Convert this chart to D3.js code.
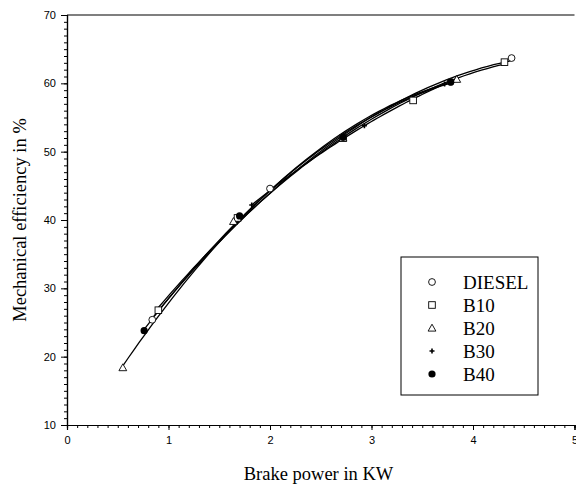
<!DOCTYPE html>
<html>
<head>
<meta charset="utf-8">
<script src="https://cdn.jsdelivr.net/npm/d3@7"></script>
<style>
  body { margin: 0; background: #fff; }
  .tick text { font-family: "Liberation Sans", Arial, sans-serif; font-size: 11px; }
  .domain, .tick line { stroke: #000; }
</style>
</head>
<body>
<div id="chart"></div>
<script>
// brake power (kW) and mechanical efficiency (%)
const diesel = [[0.84, 25.4], [2.0, 44.6], [2.72, 52.1], [3.78, 60.2], [4.38, 63.7]];
const b10 = [[0.9, 26.8], [1.68, 40.3], [2.72, 52.0], [3.41, 57.5], [4.31, 63.1]];
const b20 = [[0.55, 18.4], [1.64, 39.8], [2.72, 52.0], [3.84, 60.6]];
const b30 = [[1.82, 42.2], [2.93, 53.8], [3.72, 59.9]];
const b40 = [[0.76, 23.8], [1.70, 40.6], [2.72, 52.1], [3.78, 60.2]];

const seriesNames = ["DIESEL", "B10", "B20", "B30", "B40"];
const seriesData = [diesel, b10, b20, b30, b40];
const xTicks = [0, 1, 2, 3, 4, 5];
const yTicks = [10, 20, 30, 40, 50, 60, 70];

const props = {
  width: 576, height: 485,
  left: 67, top: 15, right: 1.5, bottom: 60
};
const W = props.width - props.left - props.right;
const H = props.height - props.top - props.bottom;

const svg = d3.select("#chart").append("svg")
  .attr("width", props.width)
  .attr("height", props.height);
const g = svg.append("g")
  .attr("transform", `translate(${props.left}, ${props.top})`);

const x = d3.scaleLinear().domain([0, 5]).range([0, W]);
const y = d3.scaleLinear().domain([10, 70]).range([H, 0]);

// minor ticks
g.append("g")
  .attr("transform", `translate(0,${H})`)
  .call(d3.axisBottom(x).tickValues(d3.range(0, 5.001, 0.1)).tickSize(3).tickFormat(""));
g.append("g")
  .call(d3.axisLeft(y).tickValues(d3.range(10, 70.001, 1)).tickSize(3).tickFormat(""));

// major ticks
g.append("g")
  .attr("transform", `translate(0,${H})`)
  .call(d3.axisBottom(x).tickValues(xTicks).tickSize(5).tickPadding(6).tickFormat(d3.format("d")));
g.append("g")
  .call(d3.axisLeft(y).tickValues(yTicks).tickSize(6).tickPadding(5).tickFormat(d3.format("d")));

g.selectAll(".domain").attr("stroke-width", 1.2);

// top border
g.append("line")
  .attr("x1", 0).attr("x2", W).attr("y1", 0).attr("y2", 0)
  .attr("stroke", "#000").attr("stroke-width", 1.2);

// axis titles
svg.append("text")
  .attr("x", 318.5).attr("y", 480)
  .attr("text-anchor", "middle")
  .style("font-family", "'Liberation Serif', 'Times New Roman', serif")
  .style("font-size", "18.5px")
  .text("Brake power in KW");

svg.append("text")
  .attr("transform", `translate(25.5,${props.top + H / 2}) rotate(-90)`)
  .attr("text-anchor", "middle")
  .style("font-family", "'Liberation Serif', 'Times New Roman', serif")
  .style("font-size", "18.5px")
  .text("Mechanical efficiency in %");

// quadratic least squares fit for each series
function fit(pts) {
  let n = pts.length, sx = 0, sx2 = 0, sx3 = 0, sx4 = 0, sy = 0, sxy = 0, sx2y = 0;
  pts.forEach(([a, b]) => {
    sx += a; sx2 += a * a; sx3 += a ** 3; sx4 += a ** 4;
    sy += b; sxy += a * b; sx2y += a * a * b;
  });
  const M = [[n, sx, sx2, sy], [sx, sx2, sx3, sxy], [sx2, sx3, sx4, sx2y]];
  for (let i = 0; i < 3; i++) {
    for (let k = i + 1; k < 3; k++) {
      const f = M[k][i] / M[i][i];
      for (let j = i; j < 4; j++) M[k][j] -= f * M[i][j];
    }
  }
  const c = [0, 0, 0];
  for (let i = 2; i >= 0; i--) {
    let s = M[i][3];
    for (let j = i + 1; j < 3; j++) s -= M[i][j] * c[j];
    c[i] = s / M[i][i];
  }
  return t => c[0] + c[1] * t + c[2] * t * t;
}

const line = d3.line().x(d => x(d[0])).y(d => y(d[1]));

seriesData.forEach(pts => {
  const f = fit(pts);
  const ext = d3.extent(pts, d => d[0]);
  const curve = d3.range(0, 61).map(i => {
    const t = ext[0] + (ext[1] - ext[0]) * i / 60;
    return [t, f(t)];
  });
  g.append("path")
    .attr("d", line(curve))
    .attr("fill", "none")
    .attr("stroke", "#000")
    .attr("stroke-width", 1.3);
});

// marker drawing
function marker(sel, name) {
  if (name === "DIESEL") {
    sel.append("circle").attr("r", 3.4).attr("fill", "#fff").attr("stroke", "#000").attr("stroke-width", 0.9);
  } else if (name === "B10") {
    sel.append("rect").attr("x", -3.3).attr("y", -3.3).attr("width", 6.6).attr("height", 6.6)
      .attr("fill", "#fff").attr("stroke", "#000").attr("stroke-width", 0.9);
  } else if (name === "B20") {
    sel.append("path").attr("d", "M0,-3.8L3.9,3.1L-3.9,3.1Z")
      .attr("fill", "#fff").attr("stroke", "#000").attr("stroke-width", 0.9);
  } else if (name === "B30") {
    sel.append("path").attr("d", "M-2.5,0H2.5M0,-2.5V2.5")
      .attr("stroke", "#000").attr("stroke-width", 1.6);
  } else {
    sel.append("circle").attr("r", 3.6).attr("fill", "#000");
  }
}

seriesData.forEach((pts, i) => {
  g.selectAll(".m" + i)
    .data(pts)
    .enter().append("g")
      .attr("class", "m" + i)
      .attr("transform", d => `translate(${x(d[0])},${y(d[1])})`)
      .each(function () { marker(d3.select(this), seriesNames[i]); });
});

// legend
const legend = svg.append("g").attr("transform", "translate(401,257)");
legend.append("rect")
  .attr("width", 137).attr("height", 138)
  .attr("fill", "#fff").attr("stroke", "#000").attr("stroke-width", 1);
seriesNames.forEach((name, i) => {
  const row = legend.append("g").attr("transform", `translate(31,${25 + i * 23})`);
  marker(row, name);
  row.append("text")
    .attr("x", 31).attr("y", 6.5)
    .style("font-family", "'Liberation Serif', 'Times New Roman', serif")
    .style("font-size", "19px")
    .text(name);
});
</script>
</body>
</html>
